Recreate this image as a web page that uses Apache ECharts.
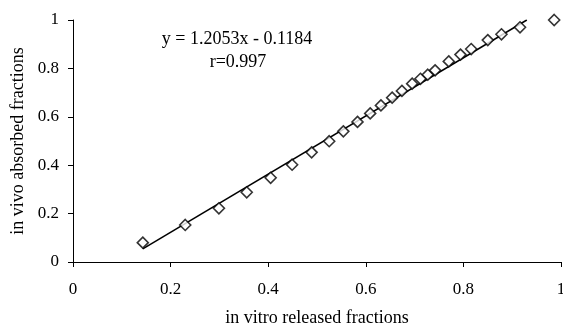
<!DOCTYPE html>
<html><head><meta charset="utf-8">
<script src="https://cdn.jsdelivr.net/npm/echarts@6/dist/echarts.min.js"></script>
<style>html,body{margin:0;padding:0;background:#fff}#c{width:563px;height:328px}</style>
</head><body><div id="c"></div>
<script>
var inVitro = [0.143,0.230,0.299,0.356,0.405,0.449,0.489,0.525,0.554,0.583,0.609,0.631,0.654,0.674,0.695,0.712,0.727,0.742,0.770,0.794,0.816,0.850,0.878,0.916,0.986];
var inVivo  = [0.080,0.153,0.222,0.288,0.348,0.402,0.453,0.499,0.540,0.579,0.614,0.647,0.679,0.707,0.737,0.757,0.774,0.792,0.829,0.857,0.880,0.917,0.941,0.970,1.000];
var trendX = [0.143, 0.930];
var trendY = [0.054, 1.000];
var xTicks = ['0','0.2','0.4','0.6','0.8','1'];
var yTicks = ['0','0.2','0.4','0.6','0.8','1'];
var equationText = 'y = 1.2053x - 0.1184';
var rText = 'r=0.997';
var xTitle = 'in vitro released fractions';
var yTitle = 'in vivo absorbed fractions';

var font = 'Liberation Serif';
var pts = inVitro.map(function(x,i){return [x,inVivo[i]];});
var tl = trendX.map(function(x,i){return [x,trendY[i]];});
var chart = echarts.init(document.getElementById('c'));
chart.setOption({
  animation:false,
  backgroundColor:'#fff',
  grid:{left:73,right:2,top:20,bottom:66,outerBoundsMode:'none',containLabel:false},
  xAxis:{type:'value',min:0,max:1,interval:0.2,
    name:xTitle,nameLocation:'middle',nameGap:47,
    nameTextStyle:{fontFamily:font,fontSize:18,color:'#000'},
    axisLine:{show:true,lineStyle:{color:'#000',width:1}},
    axisTick:{show:true,inside:false,length:5,lineStyle:{color:'#000'}},
    axisLabel:{fontFamily:font,fontSize:17,color:'#000',margin:19,formatter:function(v){return xTicks[Math.round(v*5)];}},
    splitLine:{show:false}},
  yAxis:{type:'value',min:0,max:1,interval:0.2,
    name:yTitle,nameLocation:'middle',nameGap:43,
    nameTextStyle:{fontFamily:font,fontSize:18,color:'#000'},
    axisLine:{show:true,lineStyle:{color:'#000',width:1}},
    axisTick:{show:true,inside:false,length:5,lineStyle:{color:'#000'}},
    axisLabel:{fontFamily:font,fontSize:17,color:'#000',margin:14,formatter:function(v){return yTicks[Math.round(v*5)];}},
    splitLine:{show:false}},
  graphic:[
    {type:'text',x:237,y:39,style:{text:equationText,font:'18px "Liberation Serif"',fill:'#000',align:'center',verticalAlign:'middle'}},
    {type:'text',x:238,y:62,style:{text:rText,font:'18px "Liberation Serif"',fill:'#000',align:'center',verticalAlign:'middle'}}
  ],
  series:[
    {type:'line',data:tl,symbol:'none',lineStyle:{color:'#000',width:1.5},z:2},
    {type:'scatter',data:pts,symbol:'diamond',symbolSize:[11,11],
      itemStyle:{color:'#fff',borderColor:'#000',borderWidth:1.6},z:3}
  ]
});
</script></body></html>
